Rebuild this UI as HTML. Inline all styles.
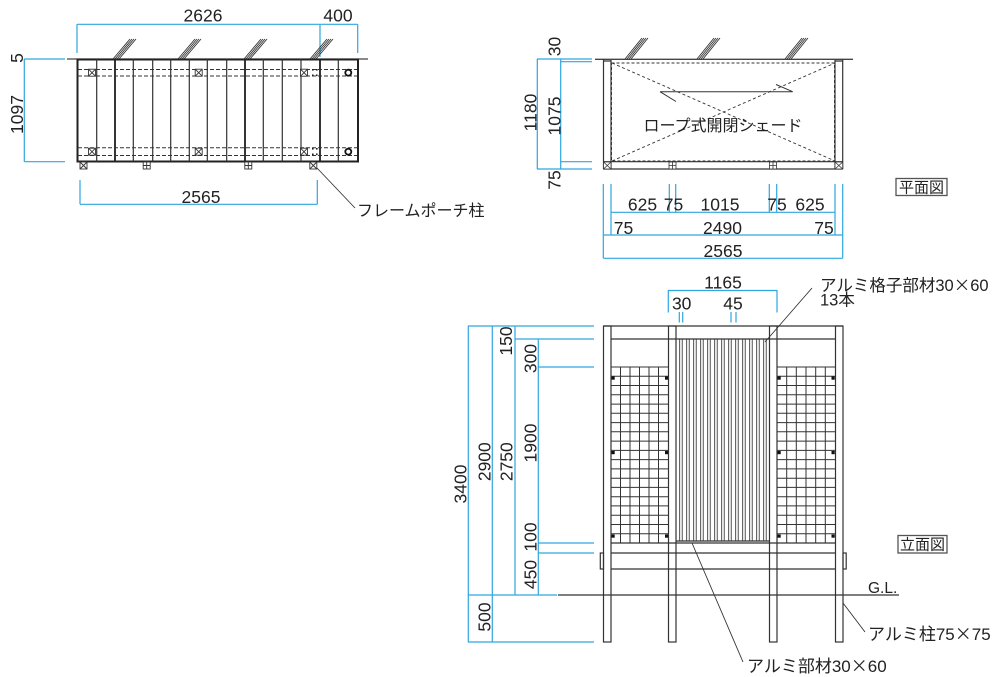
<!DOCTYPE html>
<html><head><meta charset="utf-8">
<style>
html,body{margin:0;padding:0;background:#fff;}
svg{display:block;}
text{font-family:"Liberation Sans","Noto Sans CJK JP",sans-serif;fill:#222;}
.d{font-size:17.5px;}
.j{font-family:"Liberation Sans","Noto Sans CJK JP",sans-serif;}
.x{font-family:"Noto Sans CJK JP",sans-serif;}
.b{stroke:#2fa6e0;stroke-width:1.2;fill:none;}
.k{stroke:#333;stroke-width:1.2;fill:none;}
.t{stroke:#333;stroke-width:0.9;fill:none;}
.dash{stroke:#333;stroke-width:1;fill:none;stroke-dasharray:4 2;}
</style></head><body>
<svg width="1000" height="677" viewBox="0 0 1000 677" xmlns="http://www.w3.org/2000/svg">
<rect width="1000" height="677" fill="#fff"/>

<!-- ================= TOP-LEFT PLAN ================= -->
<path class="b" d="M77 24.3H357.7 M77 24.3V53 M320 24.3V57 M357.7 24.3V53"/>
<path class="b" d="M24.3 59V161.7 M24.3 59H65 M24.3 161.7H65"/>
<path class="b" d="M80 204.3H317.3 M80 180V204.3 M317.3 180V204.3"/>
<text class="d" x="203" y="21.5" text-anchor="middle">2626</text>
<text class="d" x="338" y="21.5" text-anchor="middle">400</text>
<text class="d" x="201" y="203" text-anchor="middle">2565</text>
<text class="d" transform="translate(16.5,58) rotate(-90)" text-anchor="middle" dy="0.36em">5</text>
<text class="d" transform="translate(16.5,114.5) rotate(-90)" text-anchor="middle" dy="0.36em">1097</text>

<g class="t">
<path d="M113 59L130 39 M115 59L132 39 M117 59L134 39 M119 59L136 39"/>
<path d="M178 59L195 39 M180 59L197 39 M182 59L199 39 M184 59L201 39"/>
<path d="M244 59L261 39 M246 59L263 39 M248 59L265 39 M250 59L267 39"/>
<path d="M310 59L327 39 M312 59L329 39 M314 59L331 39 M316 59L333 39"/>
</g>
<path stroke="#444" stroke-width="1.3" d="M67 59H368"/>
<rect x="77.5" y="59.5" width="280.5" height="102" fill="#fff" stroke="#222" stroke-width="2"/>
<path class="k" d="M96.7 59V161.5 M115 59V161.5 M133.3 59V161.5 M152.7 59V161.5 M170.7 59V161.5 M189.3 59V161.5 M207.3 59V161.5 M226.7 59V161.5 M245 59V161.5 M263.3 59V161.5 M282.3 59V161.5 M301 59V161.5 M320 59V161.5 M338.3 59V161.5"/>
<path stroke="#222" stroke-width="1.8" d="M115 59V161.5 M245 59V161.5 M320 59V161.5"/>
<path class="dash" d="M78 69.5H357 M78 76H357 M78 147.7H357 M78 155.5H357"/>
<g stroke="#333" stroke-width="0.9" fill="#fff">
<rect x="88.5" y="69.2" width="7" height="7"/><path d="M88.5 69.2l7 7M95.5 69.2l-7 7"/>
<rect x="195.2" y="69.2" width="7" height="7"/><path d="M195.2 69.2l7 7M202.2 69.2l-7 7"/>
<rect x="300.5" y="69.2" width="7" height="7"/><path d="M300.5 69.2l7 7M307.5 69.2l-7 7"/>
<rect x="88.5" y="148.2" width="7" height="7"/><path d="M88.5 148.2l7 7M95.5 148.2l-7 7"/>
<rect x="195.2" y="148.2" width="7" height="7"/><path d="M195.2 148.2l7 7M202.2 148.2l-7 7"/>
<rect x="300.5" y="148.2" width="7" height="7"/><path d="M300.5 148.2l7 7M307.5 148.2l-7 7"/>
</g>
<g fill="#222">
<rect x="312" y="69" width="1.6" height="1.6"/><rect x="312" y="74.5" width="1.6" height="1.6"/>
<rect x="316" y="69" width="1.6" height="1.6"/><rect x="316" y="74.5" width="1.6" height="1.6"/>
<rect x="312" y="148" width="1.6" height="1.6"/><rect x="312" y="153.5" width="1.6" height="1.6"/>
<rect x="316" y="148" width="1.6" height="1.6"/><rect x="316" y="153.5" width="1.6" height="1.6"/>
</g>
<circle cx="348.3" cy="72.7" r="3" fill="#fff" stroke="#111" stroke-width="1.8"/>
<circle cx="348.3" cy="151.7" r="3" fill="#fff" stroke="#111" stroke-width="1.8"/>
<g stroke="#333" stroke-width="0.9" fill="#fff">
<rect x="80" y="162" width="7" height="7"/><path d="M80 162l7 7M87 162l-7 7"/>
<rect x="143.2" y="162" width="7" height="7"/><path d="M146.7 162v7M143.2 165.5h7"/>
<rect x="244.8" y="162" width="7" height="7"/><path d="M248.3 162v7M244.8 165.5h7"/>
<rect x="309.8" y="162" width="7" height="7"/><path d="M309.8 162l7 7M316.8 162l-7 7"/>
</g>
<path class="t" d="M317 168L355 208"/>
<text class="j" x="357" y="216" font-size="16">フレームポーチ柱</text>

<!-- ================= TOP-RIGHT PLAN ================= -->
<g class="t">
<path d="M625 59L642 38 M627 59L644 38 M629 59L646 38 M631 59L648 38"/>
<path d="M697 59L714 38 M699 59L716 38 M701 59L718 38 M703 59L720 38"/>
<path d="M785 59L802 38 M787 59L804 38 M789 59L806 38 M791 59L808 38"/>
</g>
<path stroke="#444" stroke-width="1.3" d="M595 59.3H853"/>
<path class="k" d="M603.5 59V169 M611 60V169 M835 60V169 M842.7 59V169 M603.5 161.7H842.7 M603.5 169H842.7 M603.5 61H611 M835 61H842.7"/>
<rect x="611.5" y="63" width="223" height="98" fill="none" stroke="#333" stroke-width="1" stroke-dasharray="3 2"/>
<path stroke="#333" stroke-width="0.9" stroke-dasharray="3 2.5" d="M612 63L835 161 M612 161L835 63"/>
<path stroke="#333" stroke-width="1" d="M660 91.7H792.7 M660 91.7L676 101.5 M776 84.5L792.7 91.7"/>
<text class="j" x="723" y="131" font-size="16" text-anchor="middle">ロープ式開閉シェード</text>
<g stroke="#333" stroke-width="0.8" fill="#fff">
<rect x="603.5" y="162" width="7.5" height="7"/><path d="M603.5 162l7.5 7M611 162l-7.5 7"/>
<rect x="669" y="162" width="7" height="7"/><path d="M672.5 162v7M669 165.5h7"/>
<rect x="769.5" y="162" width="7" height="7"/><path d="M773 162v7M769.5 165.5h7"/>
<rect x="835" y="162" width="7.7" height="7"/><path d="M835 162l7.7 7M842.7 162l-7.7 7"/>
</g>
<path class="b" d="M537.3 59V169 M560.7 59V169 M537 59H592 M560.7 61.7H592 M560.7 161.7H592 M537 169H592"/>
<text class="d" transform="translate(554,46.5) rotate(-90)" text-anchor="middle" dy="0.36em">30</text>
<text class="d" transform="translate(530,112.5) rotate(-90)" text-anchor="middle" dy="0.36em">1180</text>
<text class="d" transform="translate(554,116) rotate(-90)" text-anchor="middle" dy="0.36em">1075</text>
<text class="d" transform="translate(554,180) rotate(-90)" text-anchor="middle" dy="0.36em">75</text>
<path class="b" d="M603.3 184V258.3 M611 184V235 M669.3 184V212.3 M675.7 184V212.3 M769.3 184V212.3 M776.7 184V212.3 M835 184V235 M842.7 184V258.3 M611 212.3H835 M603.3 235H842.7 M603.3 258.3H842.7"/>
<text class="d" x="642.5" y="210.5" text-anchor="middle">625</text>
<text class="d" x="673.5" y="210.5" text-anchor="middle">75</text>
<text class="d" x="720" y="210.5" text-anchor="middle">1015</text>
<text class="d" x="777" y="210.5" text-anchor="middle">75</text>
<text class="d" x="810" y="210.5" text-anchor="middle">625</text>
<text class="d" x="623.5" y="234" text-anchor="middle">75</text>
<text class="d" x="722.5" y="234" text-anchor="middle">2490</text>
<text class="d" x="824" y="234" text-anchor="middle">75</text>
<text class="d" x="723" y="257" text-anchor="middle">2565</text>
<rect x="896" y="178.5" width="51" height="17" fill="#fff" stroke="#555" stroke-width="1.3"/>
<text class="j" x="921.5" y="192.3" font-size="15" text-anchor="middle">平面図</text>

<!-- ================= ELEVATION ================= -->
<path class="b" d="M668.3 290.5H777 M668.3 290V312.5 M777 290V312.5"/>
<path class="b" d="M679.3 312V322.5 M682.7 312V322.5 M731 312V322.5 M736 312V322.5"/>
<text class="d" x="723" y="288.3" text-anchor="middle">1165</text>
<text class="d" x="681.7" y="309.3" text-anchor="middle">30</text>
<text class="d" x="733" y="309.3" text-anchor="middle">45</text>
<path class="b" d="M468.3 326V642 M492.3 326V642 M515 326V595 M538.3 339V595
M468 326H594 M515 339H594 M538 367H594 M538 543H594 M538 553H594 M468 595H557 M468 642H594"/>
<text class="d" transform="translate(460,484) rotate(-90)" text-anchor="middle" dy="0.36em">3400</text>
<text class="d" transform="translate(484,461.7) rotate(-90)" text-anchor="middle" dy="0.36em">2900</text>
<text class="d" transform="translate(484,617) rotate(-90)" text-anchor="middle" dy="0.36em">500</text>
<text class="d" transform="translate(506,461.7) rotate(-90)" text-anchor="middle" dy="0.36em">2750</text>
<text class="d" transform="translate(505.5,341) rotate(-90)" text-anchor="middle" dy="0.36em">150</text>
<text class="d" transform="translate(530,358.5) rotate(-90)" text-anchor="middle" dy="0.36em">300</text>
<text class="d" transform="translate(530,443) rotate(-90)" text-anchor="middle" dy="0.36em">1900</text>
<text class="d" transform="translate(530,537) rotate(-90)" text-anchor="middle" dy="0.36em">100</text>
<text class="d" transform="translate(530,574.5) rotate(-90)" text-anchor="middle" dy="0.36em">450</text>

<g stroke="#444" stroke-width="0.8" fill="#e6e6e6">
<rect x="679.5" y="339" width="2.8" height="202"/>
<rect x="686.5" y="339" width="2.8" height="202"/>
<rect x="693.5" y="339" width="2.8" height="202"/>
<rect x="700.5" y="339" width="2.8" height="202"/>
<rect x="707.5" y="339" width="2.8" height="202"/>
<rect x="714.5" y="339" width="2.8" height="202"/>
<rect x="721.5" y="339" width="2.8" height="202"/>
<rect x="728.5" y="339" width="2.8" height="202"/>
<rect x="735.5" y="339" width="2.8" height="202"/>
<rect x="742.5" y="339" width="2.8" height="202"/>
<rect x="749.5" y="339" width="2.8" height="202"/>
<rect x="756.5" y="339" width="2.8" height="202"/>
<rect x="763.5" y="339" width="2.8" height="202"/>
</g>
<g stroke="#333" stroke-width="1" fill="none">
<path d="M611 367H668M611 376.3H668M611 385.5H668M611 394.8H668M611 404.1H668M611 413.3H668M611 422.6H668M611 431.8H668M611 441.1H668M611 450.4H668M611 459.6H668M611 468.9H668M611 478.2H668M611 487.4H668M611 496.7H668M611 505.9H668M611 515.2H668M611 524.5H668M611 533.7H668M611 543H668"/>
<path d="M620.5 367V543M630 367V543M639.5 367V543M649 367V543M658.5 367V543"/>
<path d="M777 367H835M777 376.3H835M777 385.5H835M777 394.8H835M777 404.1H835M777 413.3H835M777 422.6H835M777 431.8H835M777 441.1H835M777 450.4H835M777 459.6H835M777 468.9H835M777 478.2H835M777 487.4H835M777 496.7H835M777 505.9H835M777 515.2H835M777 524.5H835M777 533.7H835M777 543H835"/>
<path d="M786.7 367V543M796.3 367V543M806 367V543M815.7 367V543M825.3 367V543"/>
</g>
<g fill="#111">
<rect x="611.5" y="376.5" width="3.2" height="3.2"/><rect x="665" y="376.5" width="3.2" height="3.2"/>
<rect x="611.5" y="451" width="3.2" height="3.2"/><rect x="665" y="451" width="3.2" height="3.2"/>
<rect x="611.5" y="534.5" width="3.2" height="3.2"/><rect x="665" y="534.5" width="3.2" height="3.2"/>
<rect x="777.5" y="376.5" width="3.2" height="3.2"/><rect x="831.5" y="376.5" width="3.2" height="3.2"/>
<rect x="777.5" y="451" width="3.2" height="3.2"/><rect x="831.5" y="451" width="3.2" height="3.2"/>
<rect x="777.5" y="534.5" width="3.2" height="3.2"/><rect x="831.5" y="534.5" width="3.2" height="3.2"/>
</g>
<path class="k" d="M603.5 326H843 M611 339H835 M676 541H770 M611 543H835 M611 553H835 M611 569H835"/>
<g stroke="#333" stroke-width="1.2" fill="none">
<rect x="603.5" y="326" width="7.5" height="316"/>
<rect x="668.5" y="326" width="7.5" height="316"/>
<rect x="769.5" y="326" width="7.5" height="316"/>
<rect x="835.5" y="326" width="7.5" height="316"/>
<rect x="600.3" y="553" width="3.2" height="16"/>
<rect x="843" y="553" width="3.2" height="16"/>
</g>
<path stroke="#333" stroke-width="1.2" d="M558 595H899"/>
<text x="868" y="593" font-size="15.5">G.L.</text>
<path class="t" d="M765 342L812 288 M692 543L743 662 M843 603L865 632"/>
<text class="j" x="820" y="291" font-size="16.5">アルミ格子部材30<tspan class="x">×</tspan>60</text>
<text class="j" x="820" y="305.5" font-size="16.5">13本</text>
<text class="j" x="747" y="672" font-size="17">アルミ部材30<tspan class="x">×</tspan>60</text>
<text class="j" x="868" y="640" font-size="17">アルミ柱75<tspan class="x">×</tspan>75</text>
<rect x="898" y="535.5" width="49" height="17.5" fill="#fff" stroke="#555" stroke-width="1.3"/>
<text class="j" x="922.5" y="549.5" font-size="15" text-anchor="middle">立面図</text>
</svg>
</body></html>
